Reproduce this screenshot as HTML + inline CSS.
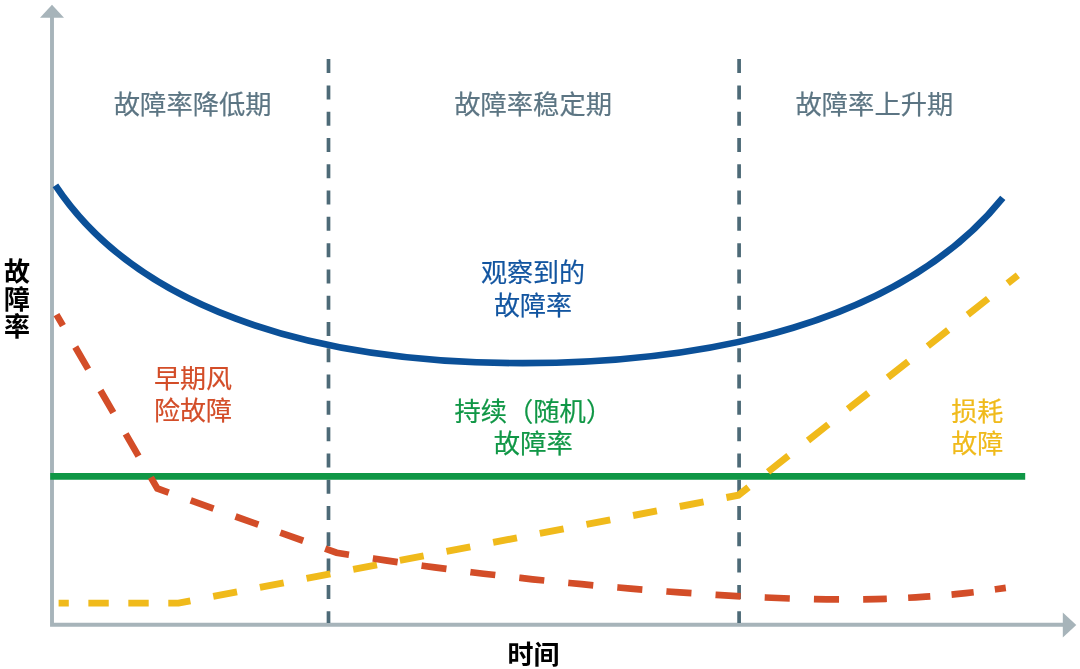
<!DOCTYPE html>
<html lang="zh-CN">
<head>
<meta charset="utf-8">
<title>故障率曲线</title>
<style>
html,body{margin:0;padding:0;background:#fff;}
body{width:1080px;height:669px;overflow:hidden;}
svg{display:block;filter:blur(0.4px);}
text{font-family:"Liberation Sans","Noto Sans CJK SC",sans-serif;font-size:26px;}
.lab{font-weight:400;text-anchor:middle;fill:currentColor;stroke:currentColor;stroke-width:0.2px;}
.big{font-size:26.3px;}
.bold{font-weight:700;fill:#000;text-anchor:middle;}
</style>
</head>
<body>
<svg width="1080" height="669" viewBox="0 0 1080 669">
<rect width="1080" height="669" fill="#fff"/>
<!-- axes -->
<path d="M52,17 L52,624.8 L1063.5,624.8" fill="none" stroke="#a7b4ba" stroke-width="3.9" stroke-linejoin="miter"/>
<path d="M52,4.8 L64,17.8 L40,17.8 Z" fill="#a7b4ba"/>
<path d="M1076.3,625 L1062.8,612.6 L1062.8,637.4 Z" fill="#a7b4ba"/>
<!-- phase separators -->
<path d="M328.5,59.1 L328.5,623" fill="none" stroke="#4d6a77" stroke-width="3.7" stroke-dasharray="14 12.29"/>
<path d="M739.1,59.1 L739.1,623" fill="none" stroke="#4d6a77" stroke-width="3.7" stroke-dasharray="14 12.29"/>
<!-- constant (green) -->
<path d="M50.2,476.4 L1025.2,476.4" fill="none" stroke="#109746" stroke-width="6.7"/>
<!-- wear-out (yellow) -->
<path d="M58.6,603.1 L178.5,603.1 L738.4,495.2 L1017.9,275.2" fill="none" stroke="#f0ba1b" stroke-width="6.9" stroke-linejoin="miter" stroke-dasharray="10.19 19.58 20.38 19.58 20.38 19.58 22.31 23.28 24.23 23.28 24.23 23.28 24.23 23.28 24.23 23.28 24.23 23.28 24.23 23.28 24.23 23.28 24.23 23.28 24.23 23.28 24.23 23.28 24.23 23.28 25.07 24.90 25.92 24.90 25.92 24.90 25.92 24.90 25.92 24.90 25.92 24.90 25.92 24.90 12.96 1000.00"/>
<!-- early failures (red) -->
<path d="M56.5,314.6 L157.3,488.5 L336.6,552.7 L348.9,554.7 L361.1,556.6 L373.4,558.5 L385.6,560.4 L397.9,562.2 L410.1,564.0 L422.4,565.7 L434.6,567.4 L446.9,569.0 L459.1,570.6 L471.4,572.2 L483.6,573.7 L495.9,575.1 L508.1,576.6 L520.4,577.9 L532.6,579.3 L544.9,580.6 L557.1,581.8 L569.4,583.0 L581.6,584.2 L593.9,585.4 L606.2,586.5 L618.4,587.5 L630.7,588.6 L642.9,589.6 L655.2,590.5 L667.4,591.5 L679.7,592.4 L691.9,593.2 L704.2,594.1 L716.4,594.9 L728.7,595.6 L740.9,596.3 L753.2,597.0 L765.4,597.5 L777.7,598.0 L789.9,598.5 L802.2,598.9 L814.4,599.2 L826.7,599.3 L838.9,599.4 L851.2,599.4 L863.4,599.3 L875.7,599.1 L885.7,598.8 L895.7,598.4 L905.7,597.9 L915.7,597.4 L925.7,596.7 L935.7,596.0 L945.8,595.1 L955.8,594.2 L965.8,593.1 L975.8,592.0 L985.8,590.7 L995.8,589.3 L1005.8,587.9" fill="none" stroke="#d34d28" stroke-width="6.7" stroke-linejoin="miter" stroke-dasharray="12.81 24.62 25.63 24.62 25.63 24.62 25.63 24.62 24.95 23.33 24.28 23.33 24.28 23.33 24.28 23.33 24.70 24.13 25.12 24.13 25.12 24.13 25.12 24.13 25.12 24.13 25.12 24.13 25.12 24.13 25.12 24.13 25.12 24.13 25.12 24.13 25.12 24.13 23.66 21.34 22.21 21.34 22.21 21.34 11.11 1000.00"/>
<!-- observed (blue) -->
<path d="M55.4,185.3 C134.3,304 302.1,363.1 522.6,363.1 C705.7,363.1 900.8,323.9 1002.8,197.8" fill="none" stroke="#0b5098" stroke-width="6.7"/>
<!-- labels -->
<text class="lab big" x="192.7" y="113.7" color="#5c7583">故障率降低期</text>
<text class="lab big" x="533.1" y="113.7" color="#5c7583">故障率稳定期</text>
<text class="lab big" x="874.4" y="113.7" color="#5c7583">故障率上升期</text>
<text class="lab" x="533" y="282.4" color="#1255a0">观察到的</text>
<text class="lab" x="533.1" y="315" color="#1255a0">故障率</text>
<text class="lab" x="193" y="387.6" color="#d34d28">早期风</text>
<text class="lab" x="193" y="419.8" color="#d34d28">险故障</text>
<text class="lab big" x="533.3" y="421.1" color="#109746">持续（随机）</text>
<text class="lab big" x="533.3" y="453.3" color="#109746">故障率</text>
<text class="lab" x="977.3" y="420.7" color="#f0ba1b">损耗</text>
<text class="lab" x="977.3" y="452.7" color="#f0ba1b">故障</text>
<text class="bold" x="17" y="281">故</text>
<text class="bold" x="17" y="308.5">障</text>
<text class="bold" x="17" y="336">率</text>
<text class="bold" x="533.4" y="663.7" style="font-size:26px">时间</text>
</svg>
</body>
</html>
